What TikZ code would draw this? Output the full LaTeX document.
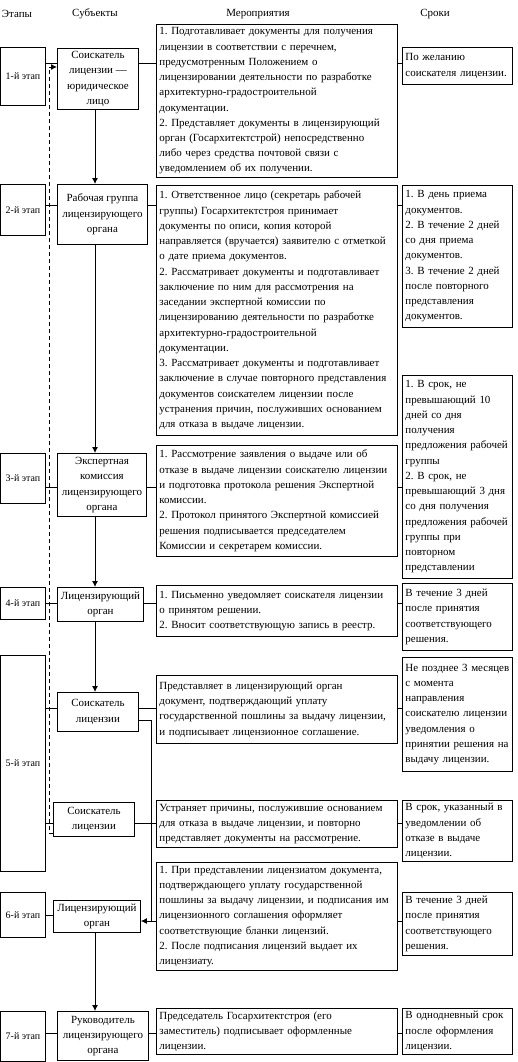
\documentclass[tikz,border=0pt]{standalone}
\usepackage{fontspec}
\setmainfont{Liberation Serif}
\usetikzlibrary{positioning,arrows.meta}
\frenchspacing

\begin{document}
\begin{tikzpicture}[%
        x=1bp, y=-1bp,
        >={Latex[length=6bp,width=6bp]},
        line width=0.9bp,
        font=\fontsize{11}{15.3}\selectfont,
        etap/.style={draw, minimum width=44bp, inner sep=1bp, anchor=north west,
                     font=\fontsize{10}{15.3}\selectfont},
        subj/.style={draw, align=center, inner sep=1bp, anchor=north west},
        meropr/.style={draw, text width=235bp, align=left, inner sep=3bp, anchor=north west},
        srok/.style={draw, text width=104bp, align=left, inner sep=3bp, anchor=north west}
        ]

        \useasboundingbox (0,0) rectangle (518,1062);

        % headings
        \node (hEtap) at (17,14) {Этапы};
        \node (hSubj) at (95,14) {Субъекты};
        \node (hMer)  at (258,14) {Мероприятия};
        \node (hSrok) at (435,14) {Сроки};

        % stages
        \node[etap, minimum height=58bp]  (e1) at (0.5,47)   {1-й этап};
        \node[etap, minimum height=51bp]  (e2) at (0.5,184)  {2-й этап};
        \node[etap, minimum height=50bp]  (e3) at (0.5,453)  {3-й этап};
        \node[etap, minimum height=32bp]  (e4) at (0.5,587)  {4-й этап};
        \node[etap, minimum height=216bp] (e5) at (0.5,655)  {5-й этап};
        \node[etap, minimum height=45bp]  (e6) at (0.5,892)  {6-й этап};
        \node[etap, minimum height=50bp]  (e7) at (0.5,1011) {7-й этап};

        % subjects
        \node[subj, minimum width=81bp, minimum height=61bp] (s1) at (57,48)
            {Соискатель\\ лицензии —\\ юридическое\\ лицо};
        \node[subj, minimum width=90bp, minimum height=60bp] (s2) at (57,184)
            {Рабочая группа\\ лицензирующего\\ органа};
        \node[subj, minimum width=89bp, minimum height=63bp] (s3) at (57,453)
            {Экспертная\\ комиссия\\ лицензирующего\\ органа};
        \node[subj, minimum width=86bp, minimum height=34bp] (s4) at (57,587)
            {Лицензирующий\\ орган};
        \node[subj, minimum width=81bp, minimum height=39bp] (s5) at (57,692)
            {Соискатель\\ лицензии};
        \node[subj, minimum width=81bp, minimum height=34bp] (s5b) at (53,802)
            {Соискатель\\ лицензии};
        \node[subj, minimum width=87bp, minimum height=32bp] (s6) at (53,900)
            {Лицензирующий\\ орган};
        \node[subj, minimum width=91bp, minimum height=49bp] (s7) at (57,1011)
            {Руководитель\\ лицензирующего\\ органа};

        % activities
        \node[meropr, minimum height=153bp] (m1) at (156,24)
            {1. Подготавливает документы для получения\\
             лицензии в соответствии с перечнем,\\
             предусмотренным Положением о\\
             лицензировании деятельности по разработке\\
             архитектурно-градостроительной\\
             документации.\\
             2. Представляет документы в лицензирующий\\
             орган (Госархитектстрой) непосредственно\\
             либо через средства почтовой связи с\\
             уведомлением об их получении.};
        \node[meropr, minimum height=250bp] (m2) at (156,185)
            {1. Ответственное лицо (секретарь рабочей\\
             группы) Госархитектстроя принимает\\
             документы по описи, копия которой\\
             направляется (вручается) заявителю с отметкой\\
             о дате приема документов.\\
             2. Рассматривает документы и подготавливает\\
             заключение по ним для рассмотрения на\\
             заседании экспертной комиссии по\\
             лицензированию деятельности по разработке\\
             архитектурно-градостроительной\\
             документации.\\
             3. Рассматривает документы и подготавливает\\
             заключение в случае повторного представления\\
             документов соискателем лицензии после\\
             устранения причин, послуживших основанием\\
             для отказа в выдаче лицензии.};
        \node[meropr, minimum height=111bp] (m3) at (156,445)
            {1. Рассмотрение заявления о выдаче или об\\
             отказе в выдаче лицензии соискателю лицензии\\
             и подготовка протокола решения Экспертной\\
             комиссии.\\
             2. Протокол принятого Экспертной комиссией\\
             решения подписывается председателем\\
             Комиссии и секретарем комиссии.};
        \node[meropr, minimum height=51bp] (m4) at (156,585)
            {1. Письменно уведомляет соискателя лицензии\\
             о принятом решении.\\
             2. Вносит соответствующую запись в реестр.};
        \node[meropr, minimum height=68bp] (m5) at (156,675)
            {Представляет в лицензирующий орган\\
             документ, подтверждающий уплату\\
             государственной пошлины за выдачу лицензии,\\
             и подписывает лицензионное соглашение.};
        \node[meropr, minimum height=47bp] (m5b) at (156,800)
            {Устраняет причины, послужившие основанием\\
             для отказа в выдаче лицензии, и повторно\\
             представляет документы на рассмотрение.};
        \node[meropr, minimum height=108bp] (m6) at (156,862)
            {1. При представлении лицензиатом документа,\\
             подтверждающего уплату государственной\\
             пошлины за выдачу лицензии, и подписания им\\
             лицензионного соглашения оформляет\\
             соответствующие бланки лицензий.\\
             2. После подписания лицензий выдает их\\
             лицензиату.};
        \node[meropr, minimum height=40bp] (m7) at (156,1008)
            {Председатель Госархитектстроя (его\\
             заместитель) подписывает оформленные\\
             лицензии.};

        % deadlines
        \node[srok, minimum height=37bp] (d1) at (402,47)
            {По желанию\\ соискателя лицензии.};
        \node[srok, minimum height=142bp] (d2) at (402,185)
            {1. В день приема\\ документов.\\ 2. В течение 2 дней\\ со дня приема\\
             документов.\\ 3. В течение 2 дней\\ после повторного\\ представления\\
             документов.};
        \node[srok, minimum height=203bp] (d3) at (402,375)
            {1. В срок, не\\ превышающий 10\\ дней со дня\\ получения\\
             предложения рабочей\\ группы\\ 2. В срок, не\\ превышающий 3 дня\\
             со дня получения\\ предложения рабочей\\ группы при\\ повторном\\
             представлении};
        \node[srok, minimum height=67bp] (d4) at (402,583)
            {В течение 3 дней\\ после принятия\\ соответствующего\\ решения.};
        \node[srok, minimum height=114bp] (d5) at (402,657)
            {Не позднее 3 месяцев\\ с момента\\ направления\\ соискателю лицензии\\
             уведомления о\\ принятии решения на\\ выдачу лицензии.};
        \node[srok, minimum height=53bp] (d5b) at (402,800)
            {В срок, указанный в\\ уведомлении об\\ отказе в выдаче\\ лицензии.};
        \node[srok, minimum height=63bp] (d6) at (402,892)
            {В течение 3 дней\\ после принятия\\ соответствующего\\ решения.};
        \node[srok, minimum height=40bp] (d7) at (402,1008)
            {В однодневный срок\\ после оформления\\ лицензии.};

        % row levels and columns
        \coordinate (r1)  at (0,63);
        \coordinate (r2)  at (0,205);
        \coordinate (r3)  at (0,487);
        \coordinate (r4)  at (0,603);
        \coordinate (r5)  at (0,708);
        \coordinate (r5b) at (0,823);
        \coordinate (r6)  at (0,915);
        \coordinate (r6m) at (0,921);
        \coordinate (r7)  at (0,1033);
        \coordinate (c) at (95,0);
        \coordinate (k) at (151,0);
        \coordinate (q) at (49,0);

        % horizontal connectors
        \draw (e1.east |- r1) -- (s1.west |- r1) (s1.east |- r1) -- (m1.west |- r1)
              (m1.east |- r1) -- (d1.west |- r1);
        \draw (e2.east |- r2) -- (s2.west |- r2) (s2.east |- r2) -- (m2.west |- r2)
              (m2.east |- r2) -- (d2.west |- r2);
        \draw (e3.east |- r3) -- (s3.west |- r3) (s3.east |- r3) -- (m3.west |- r3)
              (m3.east |- r3) -- (d3.west |- r3);
        \draw (e4.east |- r4) -- (s4.west |- r4) (s4.east |- r4) -- (m4.west |- r4)
              (m4.east |- r4) -- (d4.west |- r4);
        \draw (e5.east |- r5) -- (s5.west |- r5) (s5.east |- r5) -- (m5.west |- r5)
              (m5.east |- r5) -- (d5.west |- r5);
        \draw (e5.east |- r5b) -- (s5b.west |- r5b) (s5b.east |- r5b) -- (m5b.west |- r5b)
              (m5b.east |- r5b) -- (d5b.west |- r5b);
        \draw (e6.east |- r6) -- (s6.west |- r6)
              (k |- r6m) -- (m6.west |- r6m) (m6.east |- r6m) -- (d6.west |- r6m);
        \draw (e7.east |- r7) -- (s7.west |- r7) (s7.east |- r7) -- (m7.west |- r7)
              (m7.east |- r7) -- (d7.west |- r7);

        % vertical arrows
        \draw[->] (s1.south -| c) -- (s2.north -| c);
        \draw[->] (s2.south -| c) -- (s3.north -| c);
        \draw[->] (s3.south -| c) -- (s4.north -| c);
        \draw[->] (s4.south -| c) -- (s5.north -| c);
        \draw[->] (s6.south -| c) -- (s7.north -| c);

        % returns
        \draw[->] (s5.east |- 0,720) -- (k |- 0,720) -- (k |- r6m) -- (s6.east |- r6m);
        \draw[->, dash pattern=on 4bp off 3bp] (s5b.west |- 0,833) -- (q |- 0,833)
              -- (q |- 0,67) -- (s1.west |- 0,67);

\end{tikzpicture}
\end{document}
